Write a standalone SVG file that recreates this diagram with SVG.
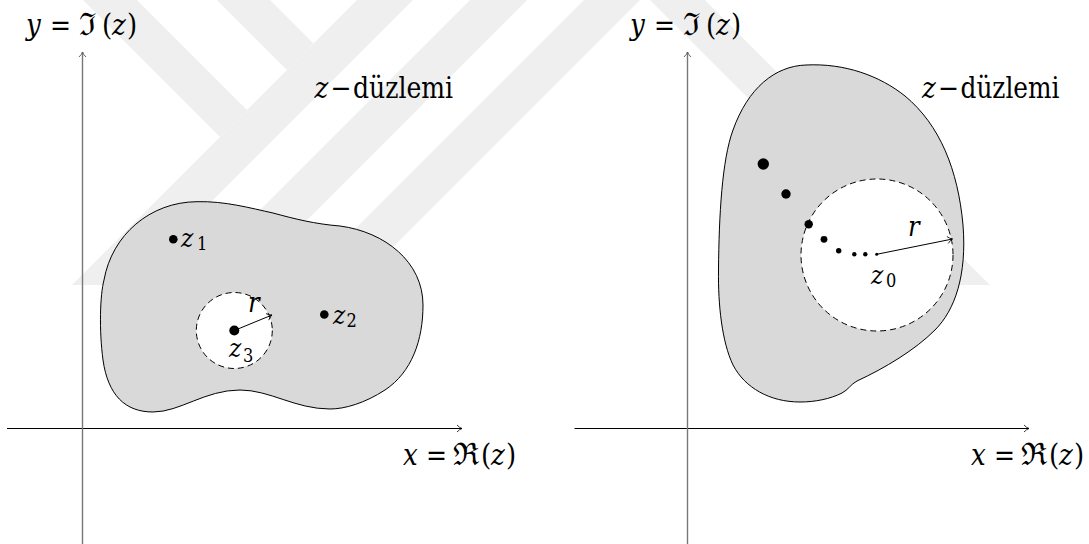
<svg xmlns="http://www.w3.org/2000/svg" width="1089" height="544" viewBox="0 0 1089 544">
<defs>
<style>
.wm{fill:#efefef}
.region{fill:#d9d9d9;stroke:#000;stroke-width:1}
.disk{fill:#fff;stroke:#000;stroke-width:1;stroke-dasharray:6 4}
.dot{fill:#000}
.axis{fill:none;stroke:#000;stroke-width:1}
.yaxis{fill:none;stroke:#777;stroke-width:1.4}
.rad{fill:none;stroke:#000;stroke-width:1}
.tx{font-family:'DejaVu Serif',serif;font-stretch:condensed;fill:#000}
.it{font-style:italic}
.lab{font-size:29px}
.fr{font-size:31px}
.zl{font-size:26px}
.sub{font-size:18px;font-style:normal}
</style>
<marker id="ah" viewBox="-6 -5 7 10" markerWidth="7" markerHeight="10" refX="0" refY="0" orient="auto" markerUnits="userSpaceOnUse">
<path d="M -5,-3.5 Q -2.5,-0.8 0,0 Q -2.5,0.8 -5,3.5" fill="none" stroke="#000" stroke-width="0.8"/>
</marker>
<marker id="ahg" viewBox="-6 -5 7 10" markerWidth="7" markerHeight="10" refX="0" refY="0" orient="auto" markerUnits="userSpaceOnUse">
<path d="M -5,-3.5 Q -2.5,-0.8 0,0 Q -2.5,0.8 -5,3.5" fill="none" stroke="#555" stroke-width="0.9"/>
</marker>
</defs>
<rect width="1089" height="544" fill="#fff"/>

<g id="watermark">
<polygon class="wm" points="83,0 137,0 247,110 220,137"/>
<polygon class="wm" points="217,0 270,0 313.5,43.5 287,70"/>
<polygon class="wm" points="357,0 413,0 128,285 72,285"/>
<polygon class="wm" points="470,0 527,0 242,285 185,285"/>
<polygon class="wm" points="584,0 640,0 355,285 299,285"/>
<polygon class="wm" points="650,0 705,0 990,285 935,285"/>
</g>

<g id="left-region">
<path class="region" d="M 197,201.7 C 225,201 250,208 273,213 C 295,219 315,224 340,226 C 385,232 423,262 423,305 C 423,340 412,372 385,390 C 365,403 345,409 330,409 C 295,409 270,390 240,390 C 205,390 180,412 153,412 C 125,412 108,395 103,360 C 99,330 100,295 104,280 C 112,235 150,202 197,201.7 Z"/>
</g>
<g id="left-disk">
<circle class="disk" cx="234.3" cy="330.5" r="38"/>
</g>
<g id="z1">
<circle class="dot" cx="173.3" cy="239.3" r="4.3"/>
<text class="tx zl"><tspan class="it" x="181" y="247">z</tspan><tspan class="sub" x="197" y="250">1</tspan></text>
</g>
<g id="z2">
<circle class="dot" cx="324.3" cy="314.5" r="4.3"/>
<text class="tx zl"><tspan class="it" x="333" y="323.5">z</tspan><tspan class="sub" x="346.5" y="326.5">2</tspan></text>
</g>
<g id="z3">
<circle class="dot" cx="234.3" cy="330.5" r="5"/>
<text class="tx zl"><tspan class="it" x="229" y="356.5">z</tspan><tspan class="sub" x="243" y="362">3</tspan></text>
</g>
<g id="left-r-label">
<text class="tx it" font-size="27" x="248" y="311.5">r</text>
</g>
<g id="left-plane-label">
<text class="tx lab"><tspan class="it" x="314.6" y="98">z</tspan><tspan x="330.5" y="98" textLength="21" lengthAdjust="spacingAndGlyphs">−</tspan><tspan x="353" y="98" textLength="100" lengthAdjust="spacingAndGlyphs">düzlemi</tspan></text>
</g>
<g id="left-y-label">
<text class="tx lab"><tspan class="it" x="26" y="35">y</tspan><tspan x="50" y="35" textLength="21" lengthAdjust="spacingAndGlyphs">=</tspan><tspan class="fr" x="79" y="35">ℑ</tspan><tspan x="102" y="35">(</tspan><tspan class="it" x="112" y="35">z</tspan><tspan x="127" y="35">)</tspan></text>
</g>
<g id="left-x-label">
<text class="tx lab"><tspan class="it" x="403" y="464.5">x</tspan><tspan x="426" y="464.5" textLength="21" lengthAdjust="spacingAndGlyphs">=</tspan><tspan class="fr" x="453" y="464.5">ℜ</tspan><tspan x="481" y="464.5">(</tspan><tspan class="it" x="491" y="464.5">z</tspan><tspan x="506" y="464.5">)</tspan></text>
</g>

<g id="right-region">
<path class="region" d="M 806,65 C 845,63 880,76 905,96 C 940,125 958,170 963,225 C 967,275 955,310 935,330 C 915,350 885,368 857,381 C 851,384 848,390 842,393 C 830,399 815,402 800,402 C 770,402 745,388 733,365 C 722,342 718,305 718.5,270 C 719,215 722,160 733,130 C 748,88 775,66 806,65 Z"/>
</g>
<g id="right-disk">
<circle class="disk" cx="877" cy="255" r="76"/>
</g>
<g id="sequence">
<circle class="dot" cx="763.3" cy="164" r="5.7"/>
<circle class="dot" cx="786" cy="194" r="4.7"/>
<circle class="dot" cx="808.7" cy="224.3" r="4.2"/>
<circle class="dot" cx="824" cy="239.3" r="3.4"/>
<circle class="dot" cx="838.7" cy="250.7" r="2.7"/>
<circle class="dot" cx="854.3" cy="254.3" r="2.2"/>
<circle class="dot" cx="865.3" cy="254.3" r="2.2"/>
<circle class="dot" cx="876.7" cy="254.3" r="1.5"/>
</g>
<g id="z0">
<text class="tx zl"><tspan class="it" x="871" y="283.5">z</tspan><tspan class="sub" x="886" y="287">0</tspan></text>
</g>
<g id="right-r-label">
<text class="tx it" font-size="27" x="908" y="236">r</text>
</g>
<g id="right-plane-label">
<text class="tx lab"><tspan class="it" x="922" y="98">z</tspan><tspan x="938" y="98" textLength="21" lengthAdjust="spacingAndGlyphs">−</tspan><tspan x="960.5" y="98" textLength="99" lengthAdjust="spacingAndGlyphs">düzlemi</tspan></text>
</g>
<g id="right-y-label">
<text class="tx lab"><tspan class="it" x="630" y="35">y</tspan><tspan x="654" y="35" textLength="21" lengthAdjust="spacingAndGlyphs">=</tspan><tspan class="fr" x="683" y="35">ℑ</tspan><tspan x="706" y="35">(</tspan><tspan class="it" x="716" y="35">z</tspan><tspan x="731" y="35">)</tspan></text>
</g>
<g id="right-x-label">
<text class="tx lab"><tspan class="it" x="971" y="464.5">x</tspan><tspan x="994" y="464.5" textLength="21" lengthAdjust="spacingAndGlyphs">=</tspan><tspan class="fr" x="1021" y="464.5">ℜ</tspan><tspan x="1049" y="464.5">(</tspan><tspan class="it" x="1059" y="464.5">z</tspan><tspan x="1074" y="464.5">)</tspan></text>
</g>

<g id="connectors">
<line class="axis" x1="7" y1="428.5" x2="462" y2="428.5" marker-end="url(#ah)"/>
<line class="yaxis" x1="82.5" y1="544" x2="82.5" y2="52" marker-end="url(#ahg)"/>
<line class="axis" x1="574.5" y1="428.5" x2="1029" y2="428.5" marker-end="url(#ah)"/>
<line class="yaxis" x1="687.5" y1="544" x2="687.5" y2="52" marker-end="url(#ahg)"/>
<line class="rad" x1="234.3" y1="330.5" x2="272" y2="315" marker-end="url(#ah)"/>
<line class="rad" x1="876.7" y1="254.3" x2="952.5" y2="239" marker-end="url(#ah)"/>
</g>
</svg>
